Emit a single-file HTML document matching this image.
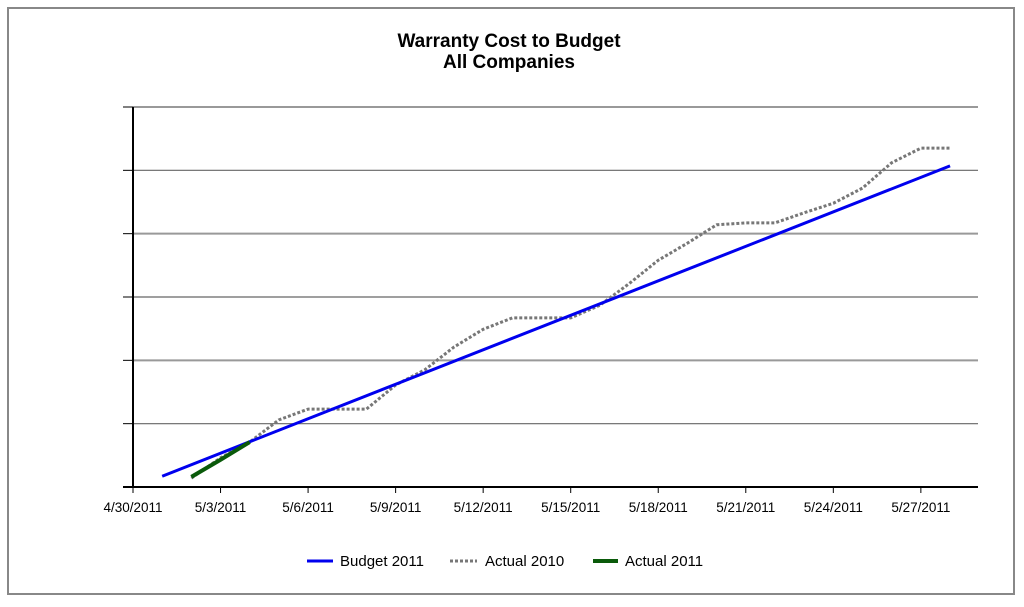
<!DOCTYPE html>
<html><head><meta charset="utf-8"><style>
body{margin:0;background:#fff;font-family:"Liberation Sans",Arial,sans-serif}
svg{display:block}
</style></head><body>
<svg id="chart" width="1024" height="607" xmlns="http://www.w3.org/2000/svg">
<rect x="8" y="8" width="1006" height="586" fill="#fff" stroke="#888" stroke-width="2"/>
<text x="509" y="47" text-anchor="middle" font-size="19" font-weight="bold">Warranty Cost to Budget</text>
<text x="509" y="68" text-anchor="middle" font-size="19" font-weight="bold">All Companies</text>
<g id="grid"></g><g id="axes"></g><g id="series"></g>
<g>
<line x1="307" y1="561" x2="333" y2="561" stroke="#0000ee" stroke-width="3"/>
<text x="340" y="566" font-size="15">Budget 2011</text>
<line x1="450" y1="561" x2="477" y2="561" stroke="#777" stroke-width="3" stroke-dasharray="3,2"/>
<text x="485" y="566" font-size="15">Actual 2010</text>
<line x1="593" y1="561" x2="618" y2="561" stroke="#0a5a0a" stroke-width="4"/>
<text x="625" y="566" font-size="15">Actual 2011</text>
</g>
</svg>
<script>
const tickLabels=["4/30/2011","5/3/2011","5/6/2011","5/9/2011","5/12/2011","5/15/2011","5/18/2011","5/21/2011","5/24/2011","5/27/2011"];
const budgetDays=[1,28];
const budgetVals=[0.17,5.07];
const actual2010Days=[2,3,4,5,6,7,8,9,10,11,12,13,14,15,16,17,18,19,20,21,22,23,24,25,26,27,28];
const actual2010Vals=[0.14,0.46,0.71,1.06,1.23,1.23,1.23,1.61,1.85,2.21,2.49,2.67,2.67,2.67,2.87,3.21,3.58,3.85,4.14,4.17,4.17,4.33,4.48,4.72,5.12,5.35,5.35];
const actual2011Days=[2,3,4];
const actual2011Vals=[0.16,0.43,0.71];
const ns="http://www.w3.org/2000/svg";
const X0=133,X1=978,Y0=487,Y1=107,PX_DAY=29.18,YMAX=6;
const xs=d=>X0+d*PX_DAY, ys=v=>Y0-(Y0-Y1)*v/YMAX;
function mk(t,a,p){const e=document.createElementNS(ns,t);for(const k in a)e.setAttribute(k,a[k]);p.appendChild(e);return e;}
const grid=document.getElementById('grid'),axes=document.getElementById('axes'),ser=document.getElementById('series');
for(let i=1;i<=YMAX;i++){const y=ys(i);
 const g=mk('line',{x1:X0,x2:X1,y1:y,y2:y,stroke:i%2?'#666':'#999','stroke-width':i%2?1.2:2},grid);
 
 
 const t=mk('line',{x1:123,x2:X0,y1:y,y2:y,stroke:'#000'},axes);
 
 
}
const ax=mk('line',{x1:X0,x2:X0,y1:Y1,y2:Y0,stroke:'#000','stroke-width':2},axes);


const bx=mk('line',{x1:123,x2:X1,y1:Y0,y2:Y0,stroke:'#000','stroke-width':2},axes);


tickLabels.forEach((l,i)=>{const x=xs(i*3);
 const t=mk('line',{x1:x,x2:x,y1:Y0,y2:Y0+6,stroke:'#000'},axes);
 
 
 const tx=mk('text',{x:x,y:512,'text-anchor':'middle','font-size':13.5},axes);tx.textContent=l;
 
 
});
function line(days,vals,attrs,name){const p=mk('polyline',Object.assign({points:days.map((d,i)=>xs(d)+','+ys(vals[i])).join(' '),fill:'none','stroke-linejoin':'round'},attrs),ser);
 
 }
line(actual2010Days,actual2010Vals,{stroke:'#777','stroke-width':3,'stroke-dasharray':'3,2'},'actual-2010-line');
line(budgetDays,budgetVals,{stroke:'#0000ee','stroke-width':3},'budget-2011-line');
line(actual2011Days,actual2011Vals,{stroke:'#0a5a0a','stroke-width':4},'actual-2011-line');
</script>
</body></html>
